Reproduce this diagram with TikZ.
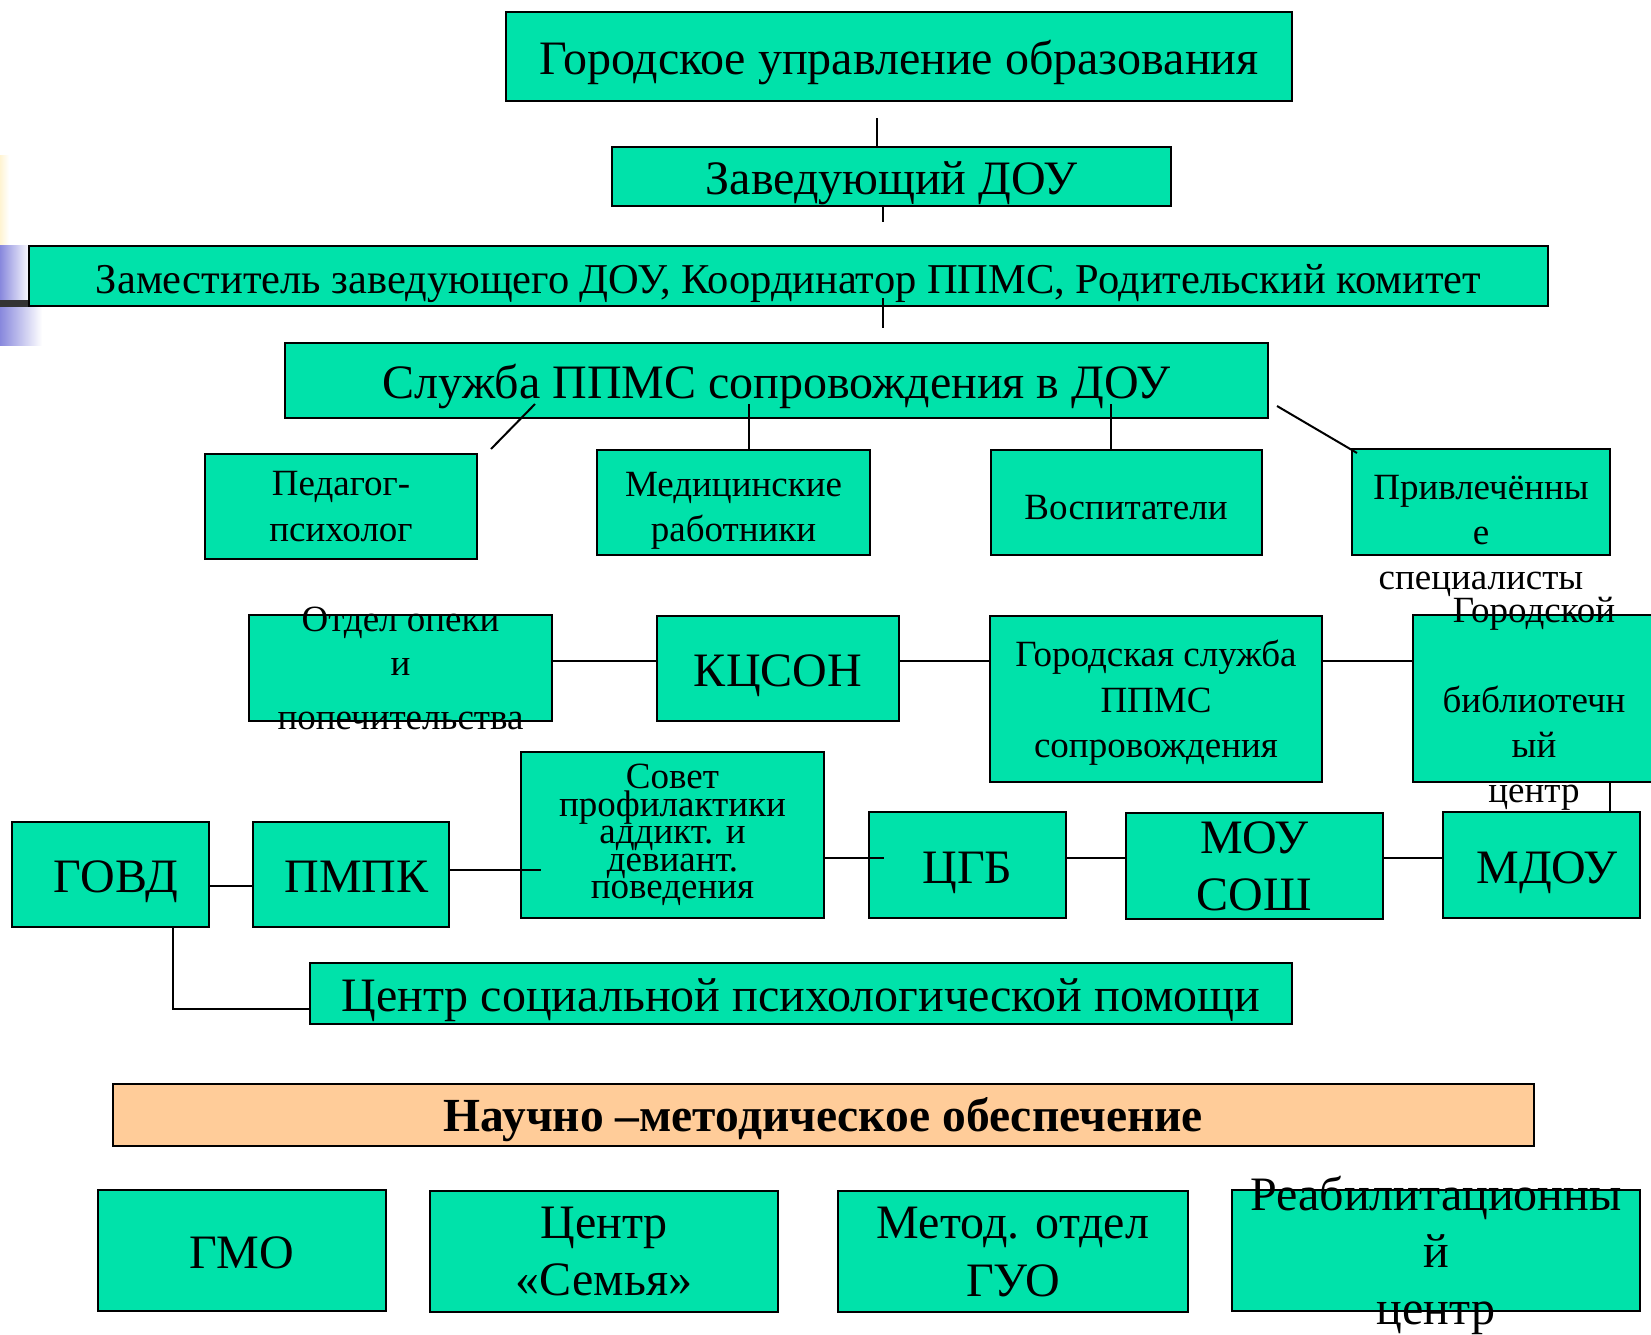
\documentclass[tikz,border=0pt]{standalone}
\usepackage{fontspec}
\setmainfont{Liberation Serif}
\definecolor{boxgreen}{RGB}{0,226,170}
\definecolor{boxorange}{RGB}{255,204,153}
\definecolor{decoblue}{RGB}{136,136,221}
\definecolor{decoyellow}{RGB}{255,244,210}
\newcommand{\tightlines}{\fontsize{37}{27.4}\selectfont\setlength{\lineskiplimit}{-100pt}}
\tikzset{
  box/.style={draw=black, line width=2pt, fill=boxgreen, inner sep=0pt, outer sep=0pt, align=center},
  big/.style={font=\fontsize{48}{57}\selectfont},
  mid/.style={font=\fontsize{37}{45}\selectfont},
  bigline/.style={big, text height=41pt, text depth=5pt},
  midline/.style={mid, text height=34pt, text depth=0pt},
  lbl/.style={inner sep=0pt, align=center},
  link/.style={line width=2pt}
}
\begin{document}
\begin{tikzpicture}[x=1pt,y=-1pt]
\useasboundingbox (0,0) rectangle (1651,1334);
% slide decoration at the left edge
\shade[left color=decoyellow, right color=white] (0,155) rectangle (9,245);
\shade[left color=decoblue, right color=white] (0,245) rectangle (30,300);
\shade[left color=decoblue, right color=white] (0,307) rectangle (42,345);
\fill[black!80] (0,300) rectangle (29,307);
% top of the chart
\node[box, bigline, minimum width=786pt, minimum height=89pt] (gorod) at (899,56.5) {Городское управление образования};
\node[box, bigline, minimum width=559pt, minimum height=59pt] (zav) at (891.5,176.5) {Заведующий ДОУ};
\node[box, font=\fontsize{42.5}{50}\selectfont, text height=36pt, text depth=2pt, minimum width=1519pt, minimum height=60pt] (zam) at (788.5,276) {Заместитель заведующего ДОУ, Координатор ППМС, Родительский комитет};
\node[box, bigline, minimum width=983pt, minimum height=75pt] (sluzhba) at (776.5,380) {Служба ППМС сопровождения в ДОУ};
% staff of the service
\node[box, font=\fontsize{37}{46}\selectfont, minimum width=272pt, minimum height=105pt] (pedagog) at (341,506.5) {Педагог-\\психолог};
\node[box, minimum width=273pt, minimum height=105pt] (med) at (733.5,502) {};
\node[lbl, mid] (medtext) at (733.5,511) {Медицинские\\работники};
\node[box, midline, minimum width=271pt, minimum height=105pt] (vosp) at (1126,502) {Воспитатели};
\node[box, minimum width=258pt, minimum height=106pt] (privl) at (1481,502) {};
\node[lbl, mid] (privltext) at (1481,536) {Привлечённы\\е\\специалисты};
% partners
\node[box, minimum width=303pt, minimum height=106pt] (opeka) at (400.5,668) {};
\node[lbl, font=\fontsize{37}{44}\selectfont] (opekatext) at (400.5,668) {Отдел опеки\\и\\[10pt]попечительства};
\node[box, bigline, minimum width=242pt, minimum height=105pt] (kcson) at (778,668.5) {КЦСОН};
\node[box, minimum width=332pt, minimum height=166pt] (gorsl) at (1156,699) {};
\node[lbl, font=\fontsize{37}{45.5}\selectfont] (gorsltext) at (1156,703) {Городская служба\\ППМС\\сопровождения};
\node[box, minimum width=242pt, minimum height=167pt] (biblio) at (1534,698.5) {};
\node[lbl, mid] (bibliotext) at (1534,704) {Городской\\[45pt]библиотечн\\ый\\центр};
\node[box, font=\tightlines, minimum width=303pt, minimum height=166pt] (sovet) at (672.5,835) {Совет\\профилактики\\аддикт. и\\девиант.\\поведения};
\node[box, bigline, minimum width=197pt, minimum height=105pt] (govd) at (110.5,874.5) {\hspace*{11pt}ГОВД};
\node[box, bigline, minimum width=196pt, minimum height=105pt] (pmpk) at (351,874.5) {\hspace*{11pt}ПМПК};
\node[box, bigline, minimum width=197pt, minimum height=106pt] (cgb) at (967.5,865) {ЦГБ};
\node[box, big, minimum width=257pt, minimum height=106pt] (mou) at (1254.5,866) {МОУ\\СОШ};
\node[box, bigline, minimum width=197pt, minimum height=106pt] (mdou) at (1541.5,865) {\hspace*{11pt}МДОУ};
\node[box, bigline, minimum width=982pt, minimum height=61pt] (centr) at (801,993.5) {Центр социальной психологической помощи};
% methodical support
\node[box, fill=boxorange, font=\bfseries\fontsize{47.5}{55}\selectfont, text height=39pt, text depth=5pt, minimum width=1421pt, minimum height=62pt] (nauch) at (823.5,1114.5) {Научно –методическое обеспечение};
\node[box, bigline, minimum width=288pt, minimum height=121pt] (gmo) at (242,1250.5) {ГМО};
\node[box, big, minimum width=348pt, minimum height=121pt] (semya) at (604,1251.5) {Центр\\«Семья»};
\node[box, font=\fontsize{48}{58}\selectfont, minimum width=350pt, minimum height=121pt] (metod) at (1013,1251.5) {Метод. отдел\\ГУО};
\node[box, minimum width=408pt, minimum height=121pt] (reab) at (1436,1250.5) {};
\node[lbl, big] (reabtext) at (1436,1255.5) {Реабилитационны\\й\\центр};
% connectors
\coordinate (gapA) at (877,118);
\coordinate (zavstub) at (883,222);
\coordinate (zamtop) at (883,298);
\coordinate (zambot) at (883,328);
\coordinate (diagLa) at (535,404);
\coordinate (diagLb) at (491,449);
\coordinate (medtop) at (749,404);
\coordinate (vosptop) at (1111,404);
\coordinate (diagRa) at (1277,406);
\coordinate (diagRb) at (1357,453);
\draw[link] (gapA) -- (gapA |- zav.north);
\draw[link] (zav.south -| zavstub) -- (zavstub);
\draw[link] (zamtop) -- (zambot);
\draw[link] (diagLa) -- (diagLb);
\draw[link] (medtop) -- (medtop |- med.north);
\draw[link] (vosptop) -- (vosptop |- vosp.north);
\draw[link] (diagRa) -- (diagRb);
\coordinate (rowA) at (0,661);
\draw[link] (opeka.east |- rowA) -- (kcson.west |- rowA);
\draw[link] (kcson.east |- rowA) -- (gorsl.west |- rowA);
\draw[link] (gorsl.east |- rowA) -- (biblio.west |- rowA);
\coordinate (colM) at (1610,0);
\draw[link] (biblio.south -| colM) -- (mdou.north -| colM);
\coordinate (rowG) at (0,886);
\coordinate (sovetin) at (541,870);
\coordinate (cgbin) at (884,858);
\draw[link] (govd.east |- rowG) -- (pmpk.west |- rowG);
\draw[link] (pmpk.east |- sovetin) -- (sovetin);
\draw[link] (sovet.east |- cgbin) -- (cgbin);
\draw[link] (cgb.east |- cgbin) -- (mou.west |- cgbin);
\draw[link] (mou.east |- cgbin) -- (mdou.west |- cgbin);
\coordinate (colG) at (173,0);
\coordinate (rowC) at (0,1009);
\draw[link] (govd.south -| colG) -- (colG |- rowC) -- (centr.west |- rowC);
\end{tikzpicture}
\end{document}
